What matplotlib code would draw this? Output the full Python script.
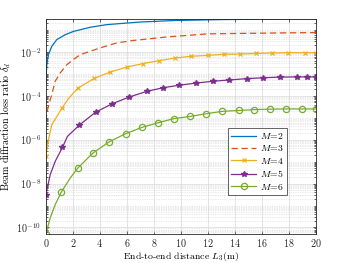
import numpy as np
import matplotlib
matplotlib.use('Agg')
import matplotlib.pyplot as plt
from matplotlib.ticker import FixedLocator, LogLocator, NullFormatter, FuncFormatter

plt.rcParams['mathtext.fontset'] = 'cm'
plt.rcParams['font.family'] = ['cmr10', 'DejaVu Sans']
plt.rcParams['axes.formatter.use_mathtext'] = True

# ---- data (log10 of loss ratio) ----
labels = [r'$M\!=\!2$', r'$M\!=\!3$', r'$M\!=\!4$', r'$M\!=\!5$', r'$M\!=\!6$']

x_m2 = [0, 0.03, 0.08, 0.19, 0.44, 0.81, 1.43, 2.04, 3.28, 4.5, 7.0, 9.6, 13.0, 16.0, 20.0]
log_m2 = [-3.45, -3.0, -2.55, -2.13, -1.75, -1.44, -1.22, -1.07, -0.88, -0.76, -0.64, -0.57, -0.53, -0.51, -0.50]

x_m3 = [0, 0.1, 0.32, 0.44, 0.69, 1.06, 1.56, 2.04, 2.54, 4.02, 5.26, 6.49, 8.96, 12.0, 14.5, 17.0, 20.0]
log_m3 = [-5.15, -4.7, -4.18, -3.95, -3.34, -2.96, -2.58, -2.35, -2.13, -1.82, -1.59, -1.48, -1.32, -1.18, -1.16, -1.14, -1.12]

x_m4 = [0, 0.19, 0.44, 1.19, 1.67, 2.37, 3.58, 4.76, 6.0, 7.16, 8.39, 9.58, 10.76, 12.0,
        13.19, 14.39, 15.56, 16.74, 17.93, 19.16, 20.0]
log_m4 = [-6.76, -6.0, -5.32, -4.56, -4.13, -3.65, -3.21, -2.92, -2.69, -2.54, -2.40, -2.28, -2.20, -2.16,
          -2.11, -2.10, -2.07, -2.05, -2.04, -2.04, -2.04]
mk_m4 = [0, 3, 5, 6, 7, 8, 9, 10, 11, 12, 13, 14, 15, 16, 17, 18, 19, 20]

x_m5 = [0, 0.32, 0.69, 1.23, 1.6, 2.49, 3.70, 4.93, 6.16, 7.47, 8.70, 9.89, 11.13, 12.36,
        13.59, 14.88, 16.1, 17.33, 18.56, 19.3, 20.0]
log_m5 = [-8.51, -7.6, -6.99, -6.35, -5.85, -5.33, -4.74, -4.36, -4.06, -3.80, -3.63, -3.52, -3.42, -3.34,
          -3.28, -3.22, -3.18, -3.15, -3.14, -3.14, -3.14]
mk_m5 = [0, 3, 5, 6, 7, 8, 9, 10, 11, 12, 13, 14, 15, 16, 17, 18, 19, 20]

x_m6 = [0, 0.32, 0.69, 1.13, 1.8, 2.37, 3.48, 4.71, 5.9, 7.11, 8.3, 9.48, 10.69, 11.85,
        13.06, 14.27, 15.43, 16.61, 17.8, 18.96, 20.0]
log_m6 = [-10.3, -9.57, -8.96, -8.40, -7.75, -7.29, -6.61, -6.09, -5.73, -5.44, -5.23, -5.04, -4.94, -4.82,
          -4.71, -4.67, -4.63, -4.61, -4.60, -4.60, -4.60]
mk_m6 = [0, 3, 5, 6, 7, 8, 9, 10, 11, 12, 13, 14, 15, 16, 17, 18, 19, 20]

colors = ['#0072BD', '#D95319', '#EDB120', '#7E2F8E', '#77AC30']

fig = plt.figure(figsize=(3.5, 2.63), dpi=100)
ax = fig.add_axes([0.131, 0.110, 0.772, 0.818])

lw = 0.9
ax.plot(x_m2, 10.0 ** np.array(log_m2), color=colors[0], lw=lw, label=labels[0])
ax.plot(x_m3, 10.0 ** np.array(log_m3), color=colors[1], lw=lw, ls=(0, (5, 3)), label=labels[1])
ax.plot(x_m4, 10.0 ** np.array(log_m4), color=colors[2], lw=lw, marker='x', ms=3.5, mew=0.9,
        markevery=mk_m4, label=labels[2])
ax.plot(x_m5, 10.0 ** np.array(log_m5), color=colors[3], lw=lw, marker='*', ms=4.2, mfc=colors[3],
        markevery=mk_m5, label=labels[3])
ax.plot(x_m6, 10.0 ** np.array(log_m6), color=colors[4], lw=lw, marker='o', ms=4.5, mfc='none', mew=0.9,
        markevery=mk_m6, label=labels[4])

ax.set_yscale('log')
ax.set_xlim(0, 20)
ax.set_ylim(10 ** -10.3, 10 ** -0.5)
ax.set_xticks(np.arange(0, 21, 2))
ax.yaxis.set_major_locator(FixedLocator([1e-10, 1e-8, 1e-6, 1e-4, 1e-2]))
ax.yaxis.set_major_formatter(FuncFormatter(lambda v, p: r'$10^{%d}$' % int(round(np.log10(v)))))
ax.yaxis.set_minor_locator(LogLocator(base=10, subs=np.arange(1, 10), numticks=30))
ax.yaxis.set_minor_formatter(NullFormatter())

ax.grid(True, which='major', color='#d9d9d9', lw=0.5, ls='-')
ax.grid(True, which='minor', axis='y', color='#d4d4d4', lw=0.5, ls=(0, (1, 1.5)))
ax.set_axisbelow(True)

for s in ax.spines.values():
    s.set_color('#262626')
    s.set_linewidth(0.6)
ax.tick_params(which='both', direction='in', top=True, right=True, colors='#262626',
               labelsize=7.3, width=0.5)
ax.tick_params(which='major', length=2.5)
ax.tick_params(which='minor', length=1.5)
ax.tick_params(axis='x', pad=2)

ax.set_xlabel(r'End-to-end distance $L_3$(m)', fontsize=7)
ax.xaxis.set_label_coords(0.5, -0.072)
ax.set_ylabel(r'Beam diffraction loss ratio $\delta_d$', fontsize=7.2, labelpad=2)

leg = ax.legend(loc='upper left', bbox_to_anchor=(0.674, 0.493), fontsize=7, frameon=True,
                fancybox=False, edgecolor='#262626', framealpha=1, handlelength=2.6,
                labelspacing=0.25, borderpad=0.3, handletextpad=0.4, borderaxespad=0)
leg.get_frame().set_linewidth(0.5)

fig.savefig('out.png', dpi=100)
